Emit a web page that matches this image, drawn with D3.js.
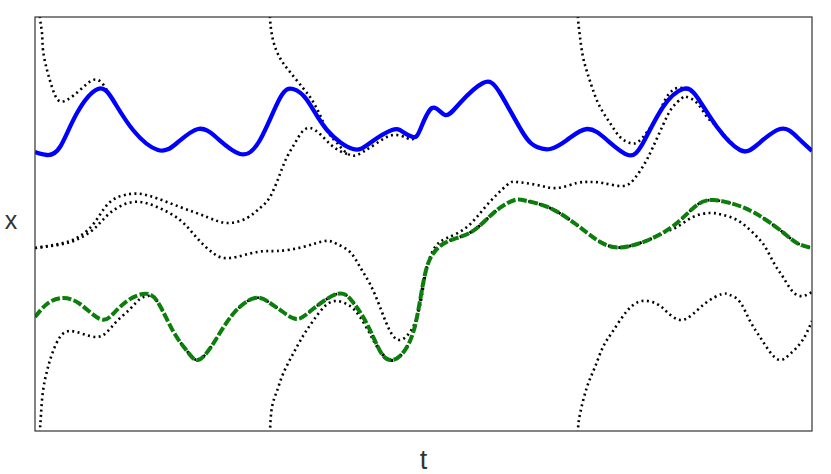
<!DOCTYPE html>
<html>
<head>
<meta charset="utf-8">
<script src="https://cdn.jsdelivr.net/npm/d3@7"></script>
<style>
  body { margin: 0; background: #fff; }
  svg { display: block; }
</style>
</head>
<body>
<div id="chart"></div>
<script>
// values, [t, x]
const blue = [
  [0, 0.725], [0.12, 0.695], [0.25, 0.775], [0.42, 1.115], [0.63, 1.355], [0.78, 1.245],
  [0.98, 0.945], [1.23, 0.745], [1.42, 0.815], [1.63, 0.955], [1.82, 0.865], [2.05, 0.705],
  [2.25, 0.845], [2.45, 1.265], [2.58, 1.355], [2.72, 1.245], [2.92, 0.945], [3.18, 0.755],
  [3.35, 0.815], [3.57, 0.945], [3.68, 0.925], [3.78, 0.875], [3.85, 0.945], [3.97, 1.165],
  [4.10, 1.095], [4.25, 1.215], [4.48, 1.415], [4.65, 1.315], [4.88, 0.915], [5.02, 0.775],
  [5.15, 0.755], [5.32, 0.845], [5.52, 0.955], [5.72, 0.845], [5.93, 0.695], [6.08, 0.815],
  [6.28, 1.175], [6.48, 1.355], [6.62, 1.275], [6.82, 0.975], [7.05, 0.745], [7.22, 0.795],
  [7.45, 0.955], [7.62, 0.875], [7.77, 0.735]
];

const green = [
  [0, -0.925], [0.12, -0.795], [0.27, -0.735], [0.45, -0.795], [0.65, -0.945], [0.78, -0.895],
  [0.92, -0.765], [1.08, -0.695], [1.22, -0.765], [1.38, -1.065], [1.52, -1.265], [1.63, -1.355],
  [1.78, -1.195], [1.98, -0.895], [2.20, -0.735], [2.35, -0.785], [2.48, -0.875], [2.62, -0.945],
  [2.78, -0.845], [3.02, -0.695], [3.17, -0.765], [3.32, -0.995], [3.45, -1.265], [3.55, -1.355],
  [3.65, -1.315], [3.75, -1.165], [3.82, -0.925], [3.88, -0.595], [3.95, -0.345], [4.08, -0.195],
  [4.25, -0.125], [4.42, -0.035], [4.62, 0.145], [4.80, 0.245], [4.92, 0.235], [5.15, 0.165],
  [5.42, -0.005], [5.62, -0.155], [5.78, -0.225], [5.95, -0.215], [6.18, -0.135], [6.42, 0.015],
  [6.62, 0.195], [6.78, 0.245], [6.95, 0.215], [7.18, 0.125], [7.45, -0.055], [7.62, -0.185],
  [7.77, -0.235]
];

// dotted estimates
const dotTopA = [
  [0.04, 2.3], [0.05, 2.065], [0.07, 1.915], [0.08, 1.745], [0.12, 1.545], [0.17, 1.375],
  [0.23, 1.245], [0.32, 1.245], [0.45, 1.345], [0.58, 1.445], [0.67, 1.415], [0.73, 1.325],
  [0.80, 1.215]
];
const dotTopB = [
  [2.345, 2.3], [2.35, 2.065], [2.38, 1.845], [2.45, 1.665], [2.55, 1.525], [2.68, 1.365],
  [2.77, 1.245], [2.85, 1.095], [2.93, 0.925], [3.02, 0.815], [3.15, 0.695], [3.28, 0.725],
  [3.42, 0.815], [3.58, 0.895], [3.72, 0.865], [3.78, 0.855]
];
const dotTopC = [
  [5.425, 2.3], [5.43, 2.065], [5.45, 1.875], [5.48, 1.675], [5.53, 1.495], [5.58, 1.345],
  [5.65, 1.175], [5.75, 1.015], [5.85, 0.875], [5.95, 0.815], [6.03, 0.825], [6.12, 0.925],
  [6.22, 1.075], [6.30, 1.245], [6.38, 1.345], [6.47, 1.365]
];
const dotMidA = [
  [0, -0.235], [0.28, -0.185], [0.45, -0.115], [0.60, 0.025], [0.75, 0.225], [0.95, 0.305],
  [1.15, 0.285], [1.45, 0.175], [1.72, 0.075], [1.92, 0.015], [2.12, 0.065], [2.25, 0.165],
  [2.35, 0.275], [2.45, 0.505], [2.52, 0.675], [2.60, 0.815], [2.67, 0.925], [2.75, 0.965],
  [2.85, 0.905], [2.95, 0.805], [3.05, 0.735], [3.15, 0.695]
];
const dotMidB = [
  [0, -0.235], [0.28, -0.195], [0.45, -0.135], [0.60, -0.035], [0.75, 0.115], [0.98, 0.225],
  [1.22, 0.175], [1.45, 0.045], [1.62, -0.135], [1.78, -0.285], [1.95, -0.335], [2.22, -0.275],
  [2.42, -0.265], [2.68, -0.225], [2.90, -0.165], [3.02, -0.195], [3.15, -0.275], [3.25, -0.425],
  [3.35, -0.595], [3.45, -0.825], [3.55, -1.065], [3.65, -1.155], [3.75, -1.075], [3.82, -0.925],
  [3.87, -0.705], [3.92, -0.425], [4.00, -0.225], [4.12, -0.135], [4.32, -0.025], [4.52, 0.195],
  [4.72, 0.395], [4.82, 0.425], [5.02, 0.395], [5.22, 0.365], [5.42, 0.415], [5.55, 0.425],
  [5.68, 0.415], [5.88, 0.385], [6.00, 0.465], [6.10, 0.615], [6.18, 0.775], [6.28, 0.995],
  [6.37, 1.165], [6.47, 1.265], [6.52, 1.275], [6.62, 1.215], [6.72, 1.075]
];
const dotLowA = [
  [0.045, -2.3], [0.05, -2.065], [0.06, -1.895], [0.08, -1.665], [0.12, -1.465], [0.17, -1.295],
  [0.25, -1.125], [0.35, -1.065], [0.48, -1.095], [0.62, -1.125], [0.72, -1.075], [0.82, -0.965],
  [0.95, -0.845], [1.05, -0.745], [1.13, -0.715]
];
const dotLowB = [
  [2.345, -2.3], [2.35, -2.075], [2.37, -1.825], [2.42, -1.665], [2.48, -1.495], [2.58, -1.295],
  [2.68, -1.115], [2.78, -0.965], [2.90, -0.815], [3.02, -0.765], [3.15, -0.815], [3.25, -0.925],
  [3.35, -1.095], [3.43, -1.235]
];
const dotLowBTail = [
  [6.28, -0.085], [6.42, -0.025], [6.58, 0.075], [6.75, 0.115], [6.88, 0.095], [7.02, 0.045],
  [7.15, -0.055], [7.25, -0.155], [7.32, -0.255], [7.40, -0.405], [7.48, -0.525], [7.58, -0.675],
  [7.68, -0.715], [7.77, -0.675]
];
const dotLowC = [
  [5.425, -2.3], [5.43, -2.065], [5.45, -1.895], [5.52, -1.625], [5.60, -1.425], [5.68, -1.225],
  [5.78, -1.065], [5.92, -0.865], [6.07, -0.765], [6.22, -0.795], [6.32, -0.875], [6.45, -0.955],
  [6.58, -0.895], [6.72, -0.775], [6.87, -0.695], [6.95, -0.705], [7.05, -0.775], [7.15, -0.965],
  [7.25, -1.125], [7.35, -1.275], [7.45, -1.355], [7.55, -1.295], [7.67, -1.165], [7.77, -0.965]
];

const width = 831, height = 474;
const margin = { top: 17, right: 19, bottom: 43, left: 35 };

const xScale = d3.scaleLinear().domain([0, 7.77]).range([margin.left, width - margin.right]);
const yScale = d3.scaleLinear().domain([-2.065, 2.075]).range([height - margin.bottom, margin.top]);

const svg = d3.select("#chart").append("svg")
  .attr("width", width)
  .attr("height", height);

svg.append("defs").append("clipPath")
  .attr("id", "plot")
  .append("rect")
  .attr("x", margin.left)
  .attr("y", margin.top)
  .attr("width", width - margin.left - margin.right)
  .attr("height", height - margin.top - margin.bottom);

const line = d3.line()
  .x(d => xScale(d[0]))
  .y(d => yScale(d[1]))
  .curve(d3.curveNatural);

// dotted curves run under the true signals once they converge
const after = (arr, a, b = Infinity) => arr.filter(d => d[0] > a && d[0] < b);

const dotted = [
  dotTopA.concat(after(blue, 0.85)),
  dotTopB.concat(after(blue, 3.82)),
  dotTopC.concat(after(blue, 6.55)),
  dotMidA,
  dotMidB.concat(after(blue, 6.8)),
  dotLowA.concat(after(green, 1.18)),
  dotLowB.concat(after(green, 3.5, 6.25), dotLowBTail),
  dotLowC
];

const plot = svg.append("g").attr("clip-path", "url(#plot)");

plot.selectAll(".est")
  .data(dotted)
  .enter()
  .append("path")
  .attr("class", "est")
  .attr("d", line)
  .attr("fill", "none")
  .attr("stroke", "#000")
  .attr("stroke-width", 2.6)
  .attr("stroke-dasharray", "2,3.4");

plot.append("path")
  .attr("d", line(green))
  .attr("fill", "none")
  .attr("stroke", "#0a7f0a")
  .attr("stroke-width", 4)
  .attr("stroke-dasharray", "9,2.5");

plot.append("path")
  .attr("d", line(blue))
  .attr("fill", "none")
  .attr("stroke", "#0000ff")
  .attr("stroke-width", 4.3)
  .attr("stroke-linejoin", "round");

// frame
svg.append("rect")
  .attr("x", margin.left)
  .attr("y", margin.top)
  .attr("width", width - margin.left - margin.right)
  .attr("height", height - margin.top - margin.bottom)
  .attr("fill", "none")
  .attr("stroke", "#333")
  .attr("stroke-width", 1.2);

// axis labels
svg.append("text")
  .attr("x", (margin.left + width - margin.right) / 2)
  .attr("y", 469)
  .attr("text-anchor", "middle")
  .attr("font-family", "Liberation Sans, Arial, sans-serif")
  .attr("font-size", 27)
  .attr("fill", "#333")
  .text("t");

svg.append("text")
  .attr("x", 11)
  .attr("y", 229)
  .attr("text-anchor", "middle")
  .attr("font-family", "Liberation Sans, Arial, sans-serif")
  .attr("font-size", 25)
  .attr("fill", "#333")
  .text("x");
</script>
</body>
</html>
